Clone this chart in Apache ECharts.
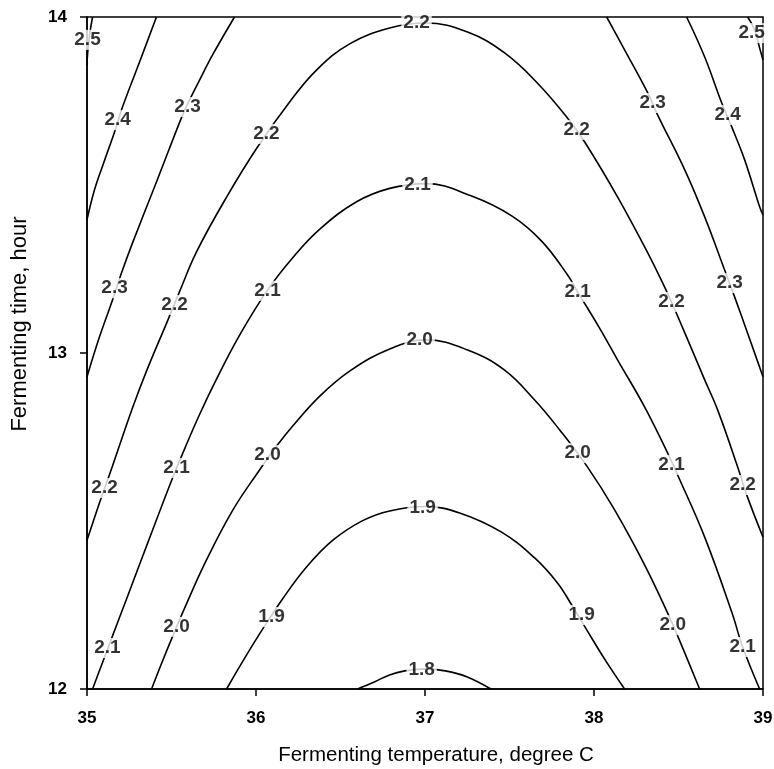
<!DOCTYPE html>
<html>
<head>
<meta charset="utf-8">
<title>Fermenting contour</title>
<script src="https://cdn.jsdelivr.net/npm/echarts@6/dist/echarts.min.js"></script>
<style>
  html, body { margin: 0; padding: 0; background: #fff; }
  #chart { width: 774px; height: 769px; }
</style>
</head>
<body>
<div id="chart"></div>
<script>
// Axis ticks
const tempTicks = [35, 36, 37, 38, 39];
const timeTicks = [12, 13, 14];

// Contour lines: [temperature, time] points along each iso-line
const line18 = [[36.60,12.000],[36.70,12.021],[36.79,12.042],[36.88,12.054],[37.00,12.060],[37.12,12.054],[37.25,12.036],[37.39,12.000]];
const line19 = [[35.826,12.000],[35.932,12.091],[36.039,12.178],[36.157,12.268],[36.299,12.363],[36.453,12.442],[36.631,12.501],[36.791,12.530],[37.004,12.543],[37.205,12.524],[37.453,12.467],[37.649,12.390],[37.785,12.315],[37.868,12.250],[37.957,12.176],[38.063,12.089],[38.181,12.000]];
const line20 = [[35.382,12.000],[35.441,12.076],[35.506,12.156],[35.577,12.240],[35.707,12.384],[35.861,12.531],[36.021,12.652],[36.122,12.723],[36.216,12.782],[36.376,12.871],[36.554,12.946],[36.791,13.012],[37.004,13.039],[37.252,13.009],[37.471,12.949],[37.649,12.860],[37.797,12.771],[37.957,12.664],[38.122,12.533],[38.300,12.369],[38.436,12.226],[38.495,12.158],[38.625,12.000]];
const line21 = [[35.033,12.000],[35.092,12.079],[35.145,12.150],[35.234,12.268],[35.370,12.449],[35.500,12.620],[35.577,12.714],[35.666,12.817],[35.767,12.923],[35.903,13.053],[36.068,13.187],[36.216,13.283],[36.376,13.368],[36.595,13.450],[36.791,13.490],[37.004,13.504],[37.276,13.467],[37.513,13.408],[37.690,13.333],[37.844,13.232],[37.903,13.182],[38.033,13.074],[38.140,12.979],[38.300,12.839],[38.436,12.702],[38.495,12.637],[38.655,12.452],[38.815,12.229],[38.880,12.125],[38.980,12.000]];
const line22 = [[35.000,12.443],[35.074,12.554],[35.151,12.664],[35.269,12.836],[35.352,12.946],[35.476,13.095],[35.547,13.182],[35.648,13.301],[35.826,13.464],[36.009,13.613],[36.199,13.747],[36.358,13.842],[36.554,13.920],[36.791,13.967],[37.004,13.982],[37.252,13.955],[37.471,13.893],[37.666,13.803],[37.844,13.699],[37.945,13.628],[38.140,13.464],[38.318,13.298],[38.418,13.196],[38.477,13.131],[38.655,12.920],[38.732,12.830],[38.850,12.661],[38.904,12.577],[39.000,12.452]];
const line23L = [[35.000,12.929],[35.074,13.048],[35.151,13.158],[35.204,13.238],[35.269,13.327],[35.411,13.509],[35.565,13.708],[35.595,13.741],[35.666,13.812],[35.743,13.887],[35.873,14.000]];
const line23R = [[38.075,14.000],[38.181,13.902],[38.318,13.774],[38.377,13.708],[38.537,13.545],[38.655,13.405],[38.773,13.247],[38.832,13.167],[38.909,13.059],[39.000,12.929]];
const line24L = [[35.411,14.000],[35.311,13.866],[35.210,13.732],[35.163,13.658],[35.098,13.565],[35.044,13.485],[35.000,13.396]];
const line24R = [[38.548,14.000],[38.655,13.881],[38.756,13.744],[38.815,13.673],[38.892,13.574],[38.980,13.435],[39.000,13.411]];
const line25L = [[35.033,14.000],[35.015,13.946],[35.003,13.887],[35.000,13.857]];
const line25R = [[38.909,14.000],[38.951,13.961],[38.980,13.908],[39.000,13.872]];

// Level of each contour line above
const lineLevels = [1.8, 1.9, 2.0, 2.1, 2.2, 2.3, 2.3, 2.4, 2.4, 2.5, 2.5];
const lines = [line18, line19, line20, line21, line22, line23L, line23R, line24L, line24R, line25L, line25R];

// Where each level's value labels sit on its lines
const labels18 = [[36.98,12.057]];
const labels19 = [[36.092,12.214],[36.986,12.539],[37.927,12.220]];
const labels20 = [[35.530,12.185],[36.068,12.696],[36.968,13.039],[37.903,12.702],[38.466,12.190]];
const labels21 = [[35.121,12.122],[35.530,12.658],[36.068,13.185],[36.956,13.500],[37.903,13.182],[38.459,12.667],[38.880,12.125]];
const labels22 = [[35.104,12.598],[35.518,13.143],[36.062,13.652],[36.950,13.982],[37.897,13.664],[38.459,13.152],[38.880,12.607]];
const labels23 = [[35.163,13.193],[35.595,13.732],[38.347,13.744],[38.803,13.208]];
const labels24 = [[35.181,13.693],[38.791,13.708]];
const labels25 = [[35.003,13.932],[38.933,13.952]];
const labelLevels = [1.8, 1.9, 2.0, 2.1, 2.2, 2.3, 2.4, 2.5];
const labelSets = [labels18, labels19, labels20, labels21, labels22, labels23, labels24, labels25];

const FONT = 'Liberation Sans, Arial, sans-serif';

const series = [];
lines.forEach((pts, i) => {
  series.push({
    name: 'contour ' + lineLevels[i].toFixed(1),
    type: 'line',
    data: pts,
    smooth: 0.4,
    symbol: 'none',
    silent: true,
    z: 2,
    lineStyle: { color: '#000', width: 1.6 }
  });
});

const labelData = [];
labelSets.forEach((set, i) => {
  set.forEach(p => labelData.push([p[0], p[1], labelLevels[i]]));
});
series.push({
  name: 'contour labels',
  type: 'scatter',
  data: labelData,
  symbol: 'circle',
  symbolSize: 1,
  itemStyle: { color: 'rgba(0,0,0,0)' },
  silent: true,
  z: 5,
  label: {
    show: true,
    position: 'inside',
    formatter: p => p.value[2].toFixed(1),
    color: '#000',
    textBorderWidth: 0,
    textBorderColor: 'transparent',
    fontFamily: FONT,
    fontSize: 19,
    fontWeight: 'bold',
    backgroundColor: '#fff',
    padding: [1, 2, 0, 2]
  }
});

const chart = echarts.init(document.getElementById('chart'), null, { renderer: 'canvas' });
chart.setOption({
  animation: false,
  backgroundColor: '#fff',
  grid: {
    left: 87, right: 11, top: 17, bottom: 80,
    outerBoundsMode: 'none',
    containLabel: false,
    show: true, borderColor: '#000', borderWidth: 1.5, backgroundColor: 'transparent'
  },
  xAxis: {
    type: 'value',
    min: tempTicks[0],
    max: tempTicks[tempTicks.length - 1],
    interval: tempTicks[1] - tempTicks[0],
    name: 'Fermenting temperature, degree C',
    nameLocation: 'middle',
    nameGap: 56,
    nameTextStyle: { fontFamily: FONT, fontSize: 20.5, color: '#000', padding: [0, 0, 0, 22] },
    axisLine: { show: true, lineStyle: { color: '#000', width: 1.5 } },
    axisTick: { show: true, inside: false, length: 7, lineStyle: { color: '#000', width: 1.5 } },
    axisLabel: { margin: 21, fontFamily: FONT, fontSize: 17, fontWeight: 'bold', color: '#000' },
    splitLine: { show: false }
  },
  yAxis: {
    type: 'value',
    min: timeTicks[0],
    max: timeTicks[timeTicks.length - 1],
    interval: timeTicks[1] - timeTicks[0],
    name: 'Fermenting time, hour',
    nameLocation: 'middle',
    nameGap: 56,
    nameTextStyle: { fontFamily: FONT, fontSize: 22, color: '#000', padding: [0, 0, 0, 58] },
    axisLine: { show: true, lineStyle: { color: '#000', width: 1.5 } },
    axisTick: { show: true, inside: false, length: 7, lineStyle: { color: '#000', width: 1.5 } },
    axisLabel: { margin: 20, fontFamily: FONT, fontSize: 17, fontWeight: 'bold', color: '#000' },
    splitLine: { show: false }
  },
  series: series
});
</script>
</body>
</html>
